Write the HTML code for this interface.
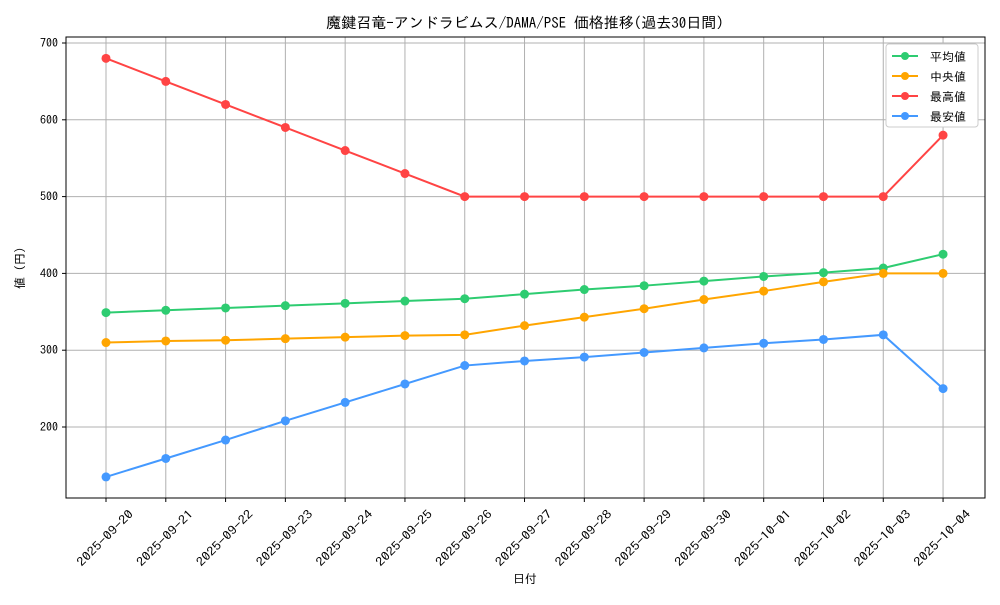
<!DOCTYPE html>
<html><head><meta charset="utf-8"><style>
body{margin:0;background:#fff}
svg text{font-family:"IPAGothic","Noto Sans CJK JP",monospace;fill:#000}
</style></head><body>
<svg width="1000" height="600" viewBox="0 0 1000 600" xmlns="http://www.w3.org/2000/svg">
<rect width="1000" height="600" fill="#fff"/>
<text x="525" y="28" font-size="15" text-anchor="middle">魔鍵召竜-アンドラビムス/DAMA/PSE 価格推移(過去30日間)</text>
<g id="grid" stroke="#b0b0b0" stroke-width="1"></g>
<rect x="66" y="37" width="919" height="461" fill="none" stroke="#000" stroke-width="1"/>
<g id="ticks"></g>
<text x="525" y="583" font-size="12" text-anchor="middle">日付</text>
<text transform="translate(24,268) rotate(-90)" font-size="12" text-anchor="middle">値 (円)</text>
<g id="series"></g>
<g>
<rect x="886" y="44" width="92" height="83" fill="#fff" stroke="#ccc" rx="3"/>
<line x1="892" y1="56" x2="918" y2="56" stroke="#2ecc71" stroke-width="2"/><circle cx="905" cy="56" r="4" fill="#2ecc71"/><text x="930" y="61" font-size="12">平均値</text>
<line x1="892" y1="76" x2="918" y2="76" stroke="#ffa500" stroke-width="2"/><circle cx="905" cy="76" r="4" fill="#ffa500"/><text x="930" y="81" font-size="12"> 中央値</text>
<line x1="892" y1="96" x2="918" y2="96" stroke="#ff4444" stroke-width="2"/><circle cx="905" cy="96" r="4" fill="#ff4444"/><text x="930" y="101" font-size="12">最高値</text>
<line x1="892" y1="116" x2="918" y2="116" stroke="#4499ff" stroke-width="2"/><circle cx="905" cy="116" r="4" fill="#4499ff"/><text x="930" y="121" font-size="12">最安値</text>
</g>
</svg>
<script>
const ns="http://www.w3.org/2000/svg";
const X=i=>106+i*59.79, Y=v=>43+(700-v)*0.768;
const g=document.getElementById("grid"),t=document.getElementById("ticks"),s=document.getElementById("series");
function el(p,n,a,txt){const e=document.createElementNS(ns,n);for(const k in a)e.setAttribute(k,a[k]);if(txt)e.textContent=txt;p.appendChild(e);return e;}
const dates=["2025-09-20","2025-09-21","2025-09-22","2025-09-23","2025-09-24","2025-09-25","2025-09-26","2025-09-27","2025-09-28","2025-09-29","2025-09-30","2025-10-01","2025-10-02","2025-10-03","2025-10-04"];
dates.forEach((d,i)=>{const x=X(i);el(g,"line",{x1:x,x2:x,y1:37,y2:498});el(t,"line",{x1:x,x2:x,y1:498,y2:502,stroke:"#000"});
el(t,"text",{x:0,y:0,"font-size":12,"text-anchor":"middle",textLength:74,lengthAdjust:"spacingAndGlyphs",transform:`translate(${x+2},541) rotate(-45)`},d);});
[200,300,400,500,600,700].forEach(v=>{const y=Y(v);el(g,"line",{x1:66,x2:985,y1:y,y2:y});el(t,"line",{x1:62,x2:66,y1:y,y2:y,stroke:"#000"});el(t,"text",{x:58,y:y+4,"font-size":12,"text-anchor":"end"},v);});
const data=[["#2ecc71",[349,352,355,358,361,364,367,373,379,384,390,396,401,407,425]],
["#ffa500",[310,312,313,315,317,319,320,332,343,354,366,377,389,400,400]],
["#ff4444",[680,650,620,590,560,530,500,500,500,500,500,500,500,500,580]],
["#4499ff",[135,159,183,208,232,256,280,286,291,297,303,309,314,320,250]]];
data.forEach(([c,a])=>{el(s,"polyline",{points:a.map((v,i)=>X(i)+","+Y(v)).join(" "),fill:"none",stroke:c,"stroke-width":2});
a.forEach((v,i)=>el(s,"circle",{cx:X(i),cy:Y(v),r:4.5,fill:c}));});
</script>
</body></html>
